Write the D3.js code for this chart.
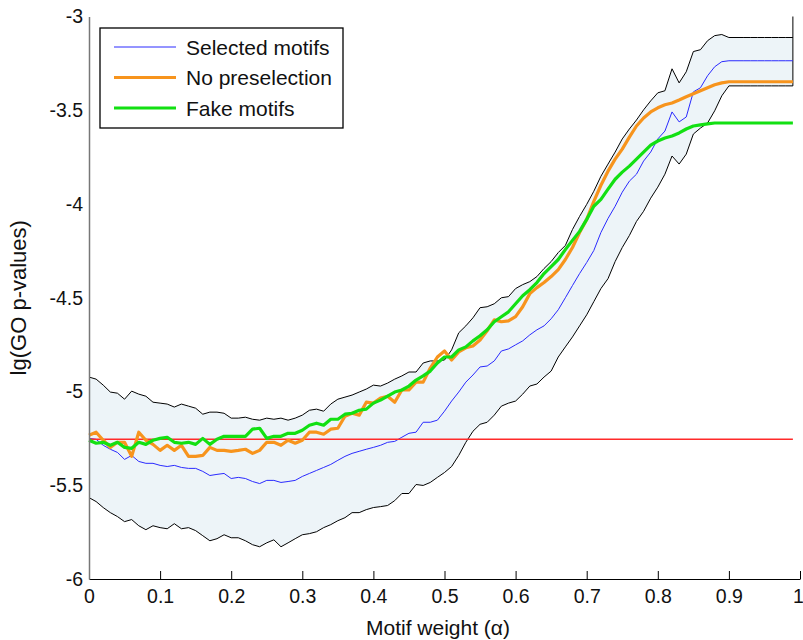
<!DOCTYPE html>
<html lang="en">
<head>
  <meta charset="UTF-8">
  <title>GO p-values vs motif weight</title>
  <style>
    html, body {
      margin: 0;
      padding: 0;
      background-color: #fff;
    }

    svg text {
      font-family: "Liberation Sans", Arial, Helvetica, sans-serif;
      fill: #111;
    }

    .band { fill: #edf4f8; stroke: none; }
    .bound { fill: none; stroke: #000; stroke-width: 1; }
    .selected { fill: none; stroke: #2a2aff; stroke-width: 1; }
    .nopre { fill: none; stroke: #f7941d; stroke-width: 3.2; stroke-linejoin: round; }
    .fake { fill: none; stroke: #12e012; stroke-width: 3.2; stroke-linejoin: round; }
  </style>
</head>
<body>
  <script src="https://cdn.jsdelivr.net/npm/d3@7/dist/d3.min.js"></script>
  <script>
    const width = 803,
          height = 640

    // motif weight grid (alpha)
    const alpha = [
      0.00, 0.01, 0.02, 0.03, 0.04, 0.05, 0.06, 0.07, 0.08, 0.09,
      0.10, 0.11, 0.12, 0.13, 0.14, 0.15, 0.16, 0.17, 0.18, 0.19,
      0.20, 0.21, 0.22, 0.23, 0.24, 0.25, 0.26, 0.27, 0.28, 0.29,
      0.30, 0.31, 0.32, 0.33, 0.34, 0.35, 0.36, 0.37, 0.38, 0.39,
      0.40, 0.41, 0.42, 0.43, 0.44, 0.45, 0.46, 0.47, 0.48, 0.49,
      0.50, 0.51, 0.52, 0.53, 0.54, 0.55, 0.56, 0.57, 0.58, 0.59,
      0.60, 0.61, 0.62, 0.63, 0.64, 0.65, 0.66, 0.67, 0.68, 0.69,
      0.70, 0.71, 0.72, 0.73, 0.74, 0.75, 0.76, 0.77, 0.78, 0.79,
      0.80, 0.81, 0.82, 0.83, 0.84, 0.85, 0.86, 0.87, 0.88, 0.89,
      0.90, 0.91, 0.92, 0.93, 0.94, 0.95, 0.96, 0.97, 0.98, 0.99
    ]

    // upper / lower envelope of the selected motifs
    const upper = [
      -4.923, -4.934, -4.966, -5.003, -5.009, -5.041, -4.998, -5.014, -5.025, -5.057,
      -5.062, -5.067, -5.083, -5.067, -5.078, -5.089, -5.121, -5.110, -5.110, -5.116,
      -5.142, -5.142, -5.137, -5.148, -5.153, -5.142, -5.148, -5.142, -5.153, -5.142,
      -5.126, -5.100, -5.094, -5.105, -5.067, -5.041, -5.030, -5.019, -5.003, -4.987,
      -4.966, -4.971, -4.955, -4.934, -4.917, -4.896, -4.896, -4.848, -4.837, -4.837,
      -4.832, -4.778, -4.687, -4.650, -4.607, -4.553, -4.548, -4.532, -4.500, -4.494,
      -4.451, -4.430, -4.414, -4.387, -4.344, -4.307, -4.259, -4.221, -4.136, -4.066,
      -4.002, -3.932, -3.852, -3.787, -3.723, -3.653, -3.600, -3.552, -3.498, -3.450,
      -3.407, -3.396, -3.279, -3.354, -3.295, -3.187, -3.177, -3.129, -3.102, -3.096,
      -3.112, -3.112, -3.112, -3.112, -3.112, -3.112, -3.112, -3.112, -3.112, -3.112
    ]

    const lower = [
      -5.566, -5.587, -5.619, -5.646, -5.667, -5.694, -5.683, -5.716, -5.737, -5.716,
      -5.726, -5.732, -5.705, -5.732, -5.726, -5.742, -5.769, -5.796, -5.785, -5.764,
      -5.780, -5.780, -5.796, -5.817, -5.828, -5.807, -5.791, -5.828, -5.807, -5.785,
      -5.764, -5.758, -5.748, -5.726, -5.710, -5.689, -5.673, -5.646, -5.646, -5.630,
      -5.619, -5.614, -5.608, -5.582, -5.544, -5.544, -5.496, -5.501, -5.485, -5.458,
      -5.432, -5.400, -5.341, -5.271, -5.212, -5.175, -5.164, -5.126, -5.078, -5.062,
      -5.051, -5.014, -4.971, -4.960, -4.923, -4.891, -4.816, -4.762, -4.709, -4.650,
      -4.591, -4.521, -4.451, -4.398, -4.307, -4.232, -4.168, -4.093, -4.039, -3.969,
      -3.910, -3.841, -3.744, -3.787, -3.734, -3.627, -3.595, -3.568, -3.503, -3.423,
      -3.370, -3.370, -3.370, -3.370, -3.370, -3.370, -3.370, -3.370, -3.370, -3.370
    ]

    const selectedMotifs = [
      -5.250, -5.255, -5.287, -5.308, -5.325, -5.362, -5.341, -5.373, -5.383, -5.383,
      -5.394, -5.400, -5.394, -5.405, -5.410, -5.410, -5.426, -5.448, -5.442, -5.437,
      -5.464, -5.458, -5.464, -5.480, -5.491, -5.474, -5.474, -5.485, -5.480, -5.474,
      -5.453, -5.437, -5.421, -5.405, -5.389, -5.367, -5.346, -5.330, -5.319, -5.308,
      -5.298, -5.287, -5.271, -5.266, -5.244, -5.223, -5.217, -5.164, -5.164, -5.153,
      -5.105, -5.051, -5.003, -4.950, -4.912, -4.869, -4.864, -4.837, -4.784, -4.773,
      -4.751, -4.730, -4.698, -4.671, -4.650, -4.612, -4.564, -4.500, -4.435, -4.371,
      -4.312, -4.248, -4.152, -4.077, -4.012, -3.937, -3.878, -3.841, -3.771, -3.723,
      -3.653, -3.611, -3.509, -3.562, -3.536, -3.402, -3.380, -3.316, -3.268, -3.241,
      -3.236, -3.236, -3.236, -3.236, -3.236, -3.236, -3.236, -3.236, -3.236, -3.236
    ]

    const noPreselection = [
      -5.233, -5.217, -5.260, -5.298, -5.271, -5.271, -5.346, -5.217, -5.260, -5.282,
      -5.314, -5.287, -5.314, -5.287, -5.346, -5.346, -5.341, -5.298, -5.314, -5.314,
      -5.319, -5.314, -5.308, -5.330, -5.314, -5.271, -5.271, -5.287, -5.260, -5.276,
      -5.260, -5.217, -5.217, -5.228, -5.201, -5.196, -5.132, -5.116, -5.126, -5.057,
      -5.062, -5.035, -5.025, -5.057, -4.992, -4.992, -4.950, -4.950, -4.875, -4.816,
      -4.784, -4.832, -4.789, -4.767, -4.757, -4.725, -4.676, -4.618, -4.628, -4.623,
      -4.601, -4.548, -4.478, -4.446, -4.419, -4.387, -4.350, -4.296, -4.232, -4.152,
      -4.082, -3.986, -3.900, -3.825, -3.761, -3.707, -3.643, -3.584, -3.541, -3.509,
      -3.487, -3.471, -3.461, -3.445, -3.428, -3.412, -3.396, -3.380, -3.364, -3.354,
      -3.348, -3.348, -3.348, -3.348, -3.348, -3.348, -3.348, -3.348, -3.348, -3.348
    ]

    const fakeMotifs = [
      -5.260, -5.276, -5.271, -5.287, -5.271, -5.298, -5.303, -5.271, -5.282, -5.260,
      -5.250, -5.244, -5.271, -5.276, -5.271, -5.282, -5.250, -5.282, -5.255, -5.239,
      -5.239, -5.239, -5.239, -5.201, -5.196, -5.250, -5.239, -5.239, -5.223, -5.223,
      -5.207, -5.180, -5.169, -5.180, -5.148, -5.148, -5.121, -5.116, -5.100, -5.094,
      -5.062, -5.046, -5.025, -5.003, -4.992, -4.971, -4.939, -4.917, -4.891, -4.848,
      -4.816, -4.816, -4.778, -4.762, -4.730, -4.703, -4.671, -4.628, -4.601, -4.575,
      -4.532, -4.489, -4.457, -4.419, -4.371, -4.334, -4.296, -4.243, -4.194, -4.146,
      -4.082, -4.012, -3.975, -3.921, -3.868, -3.830, -3.798, -3.761, -3.723, -3.686,
      -3.664, -3.648, -3.637, -3.621, -3.600, -3.584, -3.578, -3.573, -3.568, -3.568,
      -3.568, -3.568, -3.568, -3.568, -3.568, -3.568, -3.568, -3.568, -3.568, -3.568
    ]

    // reference level (horizontal red line)
    const referenceLevel = -5.255

    const xTicks = [0, 0.1, 0.2, 0.3, 0.4, 0.5, 0.6, 0.7, 0.8, 0.9, 1]
    const xTickLabels = ['0', '0.1', '0.2', '0.3', '0.4', '0.5', '0.6', '0.7', '0.8', '0.9', '1']
    const yTicks = [-6, -5.5, -5, -4.5, -4, -3.5, -3]
    const yTickLabels = ['-6', '-5.5', '-5', '-4.5', '-4', '-3.5', '-3']

    const legendNames = ['Selected motifs', 'No preselection', 'Fake motifs']
    const legendClasses = ['selected', 'nopre', 'fake']

    const x = d3.scaleLinear().domain([0, 1]).range([89, 800])
    const y = d3.scaleLinear().domain([-6, -3]).range([579, 16.5])

    const svg = d3.select('body')
      .append('svg')
      .attr('width', width)
      .attr('height', height)

    const idx = d3.range(alpha.length)

    // shaded band between the two envelopes
    svg.append('path')
      .datum(idx)
      .attr('class', 'band')
      .attr('d', d3.area()
        .x(i => x(alpha[i]))
        .y0(i => y(lower[i]))
        .y1(i => y(upper[i])))

    const lineOf = values => d3.line()
      .x(i => x(alpha[i]))
      .y(i => y(values[i]))

    svg.append('path').datum(idx).attr('class', 'bound').attr('d', lineOf(upper))
    svg.append('path').datum(idx).attr('class', 'bound').attr('d', lineOf(lower))

    // right edge of the band
    const last = alpha.length - 1
    svg.append('line')
      .attr('class', 'bound')
      .attr('x1', x(alpha[last])).attr('x2', x(alpha[last]))
      .attr('y1', y(-3)).attr('y2', y(lower[last]))

    svg.append('path').datum(idx).attr('class', 'selected').attr('d', lineOf(selectedMotifs))

    svg.append('line')
      .attr('x1', x(alpha[0])).attr('x2', x(alpha[last]))
      .attr('y1', y(referenceLevel)).attr('y2', y(referenceLevel))
      .attr('stroke', '#ff2a2a')
      .attr('stroke-width', 1.4)

    svg.append('path').datum(idx).attr('class', 'nopre').attr('d', lineOf(noPreselection))
    svg.append('path').datum(idx).attr('class', 'fake').attr('d', lineOf(fakeMotifs))

    // axes
    const xAxis = svg.append('g')
      .attr('transform', `translate(0,${y(-6)})`)
      .call(d3.axisBottom(x)
        .tickValues(xTicks)
        .tickFormat((d, i) => xTickLabels[i])
        .tickSizeInner(-8)
        .tickSizeOuter(0)
        .tickPadding(10))
    xAxis.select('.domain').attr('stroke', '#000')
    xAxis.selectAll('.tick line').attr('stroke', '#000')
    xAxis.selectAll('text').attr('font-size', 19.5).attr('fill', '#111')
    // the last label sits against the page edge
    xAxis.selectAll('.tick:last-of-type text').attr('dx', -2)

    const yAxis = svg.append('g')
      .attr('transform', `translate(${x(0)},0)`)
      .call(d3.axisLeft(y)
        .tickValues(yTicks)
        .tickFormat((d, i) => yTickLabels[i])
        .tickSize(0)
        .tickPadding(6))
    yAxis.select('.domain').attr('stroke', '#777').attr('stroke-width', 1.5)
    yAxis.selectAll('text').attr('font-size', 19.5).attr('fill', '#111')

    svg.append('text')
      .attr('x', 438)
      .attr('y', 635)
      .attr('text-anchor', 'middle')
      .attr('font-size', 21)
      .text('Motif weight (α)')

    svg.append('text')
      .attr('transform', `translate(26,${(y(-3) + y(-6)) / 2}) rotate(-90)`)
      .attr('text-anchor', 'middle')
      .attr('font-size', 22)
      .text('lg(GO p-values)')

    // legend
    const legend = svg.append('g').attr('transform', 'translate(100,28)')
    legend.append('rect')
      .attr('width', 243)
      .attr('height', 100)
      .attr('fill', '#fff')
      .attr('stroke', '#000')
      .attr('stroke-width', 1.3)

    legendNames.forEach((name, i) => {
      const cy = 19 + i * 30.5
      legend.append('line')
        .attr('class', legendClasses[i])
        .attr('x1', 14).attr('x2', 76)
        .attr('y1', cy).attr('y2', cy)
      legend.append('text')
        .attr('x', 86)
        .attr('y', cy + 7.5)
        .attr('font-size', 21)
        .text(name)
    })
  </script>
</body>
</html>
